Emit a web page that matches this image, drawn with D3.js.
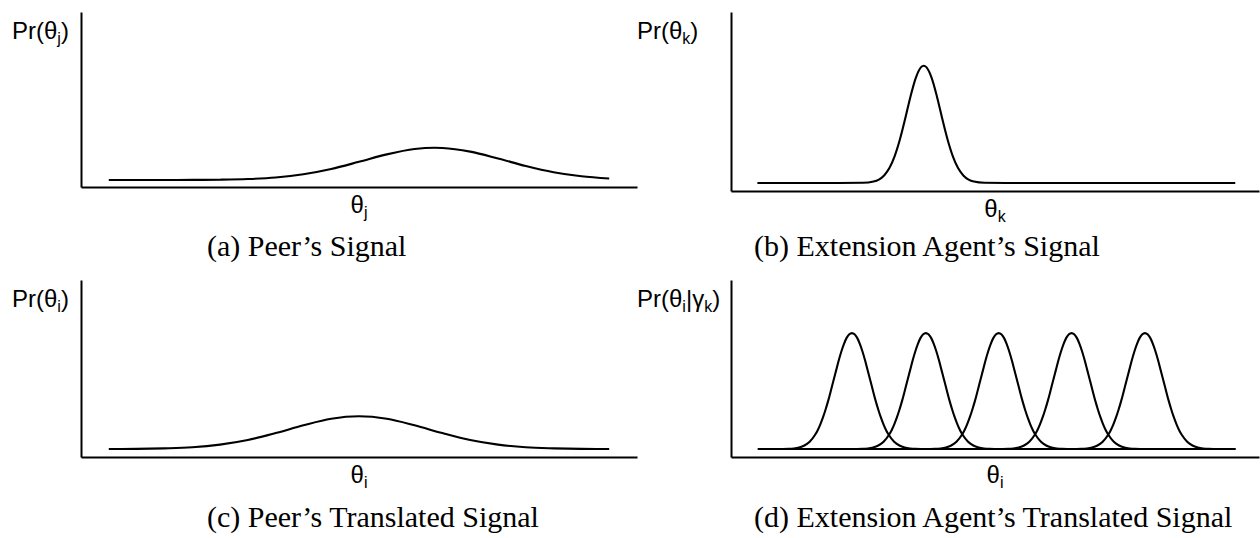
<!DOCTYPE html>
<html>
<head>
<meta charset="utf-8">
<script src="https://cdn.jsdelivr.net/npm/d3@7"></script>
<style>
  html, body { margin: 0; padding: 0; background: #fff; }
  svg { display: block; }
  .lbl { font-family: "Liberation Sans", Arial, sans-serif; fill: #000; }
  .cap { font-family: "Liberation Serif", "Times New Roman", serif; fill: #000; }
</style>
</head>
<body>
<svg id="chart" width="1260" height="538"></svg>
<script>
// ---------- data (y = % of axis height) ----------
const peerX = [5,10,15,20,25,30,35,40,45,50,55,60,63.6,65,70,75,80,85,90,95];
const peerY = [4.0,4.0,4.01,4.05,4.18,4.55,5.45,7.28,10.29,14.38,18.63,21.68,22.4,22.29,20.21,16.29,11.99,8.45,6.12,4.86];

const agentX = [5,20,25,27,28,29,30,31,32,33,34,35,36,36.5,37,38,39,40,41,42,43,44,45,46,48,52,95.5];
const agentY = [4.5,4.5,4.6,5.3,6.4,8.7,12.8,19.5,28.9,40.5,52.8,63.2,69.2,70,69.2,63.2,52.8,40.5,28.9,19.5,12.8,8.7,6.4,5.3,4.6,4.5,4.5];

const peerTransX = [5,10,15,20,25,30,35,40,45,50,55,60,65,70,75,80,85,90,95];
const peerTransY = [4.53,4.6,4.9,5.5,7.0,9.6,13.5,17.9,21.6,23.0,21.6,17.9,13.5,9.6,7.0,5.5,4.9,4.6,4.53];

// one bump of the agent's translated signal, as offsets from its centre
const bumpOffsets = [-14,-12,-11,-10,-9,-8,-7,-6.5,-6,-5.5,-5,-4.5,-4,-3.5,-3,-2.5,-2,-1.5,-1,-0.5,0,0.5,1,1.5,2,2.5,3,3.5,4,4.5,5,5.5,6,6.5,7,8,9,10,11,12,14];
const bumpValues  = [4.5,4.6,4.85,5.4,6.5,8.6,12.4,15.0,18.3,22.2,26.7,31.7,37.3,43.1,48.8,54.5,59.6,63.9,67.3,69.3,70,69.3,67.3,63.9,59.6,54.5,48.8,43.1,37.3,31.7,26.7,22.2,18.3,15.0,12.4,8.6,6.5,5.4,4.85,4.6,4.5];
const bumpCentres = [22.9, 36.9, 50.7, 64.5, 78.4];
const transRange = [5.1, 95.5];
const baseValue = 4.5;

const yLabels = [
  {pre:"Pr(θ", sub:"j", post:")"},
  {pre:"Pr(θ", sub:"k", post:")"},
  {pre:"Pr(θ", sub:"i", post:")"},
  {pre:"Pr(θ", sub:"i", mid:"|γ", sub2:"k", post:")"}
];
const xLabels = [{t:"θ",s:"j"},{t:"θ",s:"k"},{t:"θ",s:"i"},{t:"θ",s:"i"}];
const captions = ["(a) Peer’s Signal","(b) Extension Agent’s Signal","(c) Peer’s Translated Signal","(d) Extension Agent’s Translated Signal"];

// ---------- layout ----------
const panels = [
  {x0:81,  x1:637,  top:12,  bottom:187, lblX:12,  capX:207, capY:256},
  {x0:731, x1:1259, top:12,  bottom:191, lblX:637, capX:754, capY:256},
  {x0:81,  x1:637,  top:280, bottom:457, lblX:12,  capX:207, capY:527},
  {x0:731, x1:1259, top:280, bottom:457, lblX:637, capX:754, capY:527}
];

const svg = d3.select("#chart");

function seriesFor(i) {
  const zip = (xs, ys) => xs.map((x, k) => [x, ys[k]]);
  if (i === 0) return [zip(peerX, peerY)];
  if (i === 1) return [zip(agentX, agentY)];
  if (i === 2) return [zip(peerTransX, peerTransY)];
  return bumpCentres.map(c => {
    const pts = [[transRange[0], baseValue]];
    bumpOffsets.forEach((o, k) => pts.push([c + o, bumpValues[k]]));
    pts.push([transRange[1], baseValue]);
    return pts;
  });
}

panels.forEach((p, i) => {
  const g = svg.append("g");
  const x = d3.scaleLinear().domain([0, 100]).range([p.x0, p.x1]);
  const y = d3.scaleLinear().domain([0, 100]).range([p.bottom, p.top]);

  // axes (no ticks)
  g.append("g").attr("transform", `translate(0,${p.bottom})`)
    .call(d3.axisBottom(x).tickValues([]).tickSizeOuter(0))
    .select(".domain").attr("stroke", "#000").attr("stroke-width", 2);
  g.append("g").attr("transform", `translate(${p.x0},0)`)
    .call(d3.axisLeft(y).tickValues([]).tickSizeOuter(0))
    .select(".domain").attr("stroke", "#000").attr("stroke-width", 2);

  const line = d3.line().x(d => x(d[0])).y(d => y(d[1])).curve(d3.curveMonotoneX);
  seriesFor(i).forEach(s => {
    g.append("path").attr("d", line(s)).attr("fill", "none")
      .attr("stroke", "#000").attr("stroke-width", 2.1);
  });

  // y label
  const yl = yLabels[i];
  const t = g.append("text").attr("class", "lbl").attr("font-size", 24)
    .attr("x", p.lblX).attr("y", p.top + 27).attr("text-anchor", "start");
  t.append("tspan").text(yl.pre);
  t.append("tspan").attr("font-size", 16).attr("dy", 5).text(yl.sub);
  if (yl.mid) {
    t.append("tspan").attr("dy", -5).text(yl.mid);
    t.append("tspan").attr("font-size", 16).attr("dy", 5).text(yl.sub2);
  }
  t.append("tspan").attr("dy", -5).text(yl.post);

  // x label
  const xl = g.append("text").attr("class", "lbl").attr("font-size", 24)
    .attr("x", (p.x0 + p.x1) / 2).attr("y", p.bottom + 26).attr("text-anchor", "middle");
  xl.append("tspan").text(xLabels[i].t);
  xl.append("tspan").attr("font-size", 16).attr("dy", 5).text(xLabels[i].s);

  // caption
  g.append("text").attr("class", "cap").attr("font-size", 30)
    .attr("x", p.capX).attr("y", p.capY)
    .attr("text-anchor", "start").text(captions[i]);
});
</script>
</body>
</html>
